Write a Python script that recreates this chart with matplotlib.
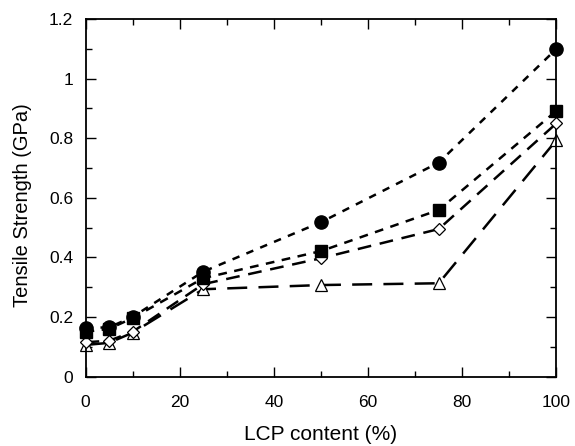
import matplotlib
matplotlib.use('Agg')
import matplotlib.pyplot as plt
from matplotlib.ticker import MultipleLocator

plt.rcParams['font.family'] = ['Liberation Sans', 'DejaVu Sans']

# LCP content (%) and tensile strength (GPa) for the four series
lcp = [0, 5, 10, 25, 50, 75, 100]
circulos = [0.163, 0.165, 0.20, 0.352, 0.518, 0.718, 1.10]
cuadrados = [0.15, 0.16, 0.196, 0.33, 0.421, 0.559, 0.892]
rombos = [0.115, 0.12, 0.15, 0.31, 0.397, 0.495, 0.85]
triangulos = [0.106, 0.113, 0.147, 0.293, 0.307, 0.313, 0.794]

ticks_y = [0, 0.2, 0.4, 0.6, 0.8, 1.0, 1.2]
etiquetas_y = ['0', '0.2', '0.4', '0.6', '0.8', '1', '1.2']

fig = plt.figure(figsize=(5.75, 4.46), dpi=100)
ax = fig.add_axes([0.1487, 0.1558, 0.8191, 0.8016])

# el orden de dibujo deja los circulos y cuadrados rellenos encima
ax.plot(lcp, triangulos, color='black', lw=1.8, dashes=(8, 4.5),
        marker='^', ms=8, mfc='white', mec='black', mew=0.9, zorder=2,
        clip_on=False)
ax.plot(lcp, rombos, color='black', lw=1.8, dashes=(5.5, 3.5),
        marker='D', ms=6.5, mfc='white', mec='black', mew=0.9, zorder=3,
        clip_on=False)
ax.plot(lcp, cuadrados, color='black', lw=1.8, dashes=(3.5, 3),
        marker='s', ms=8, mfc='black', mec='black', zorder=4,
        clip_on=False)
ax.plot(lcp, circulos, color='black', lw=1.8, dashes=(3, 3),
        marker='o', ms=9.5, mfc='black', mec='black', zorder=5,
        clip_on=False)

ax.set_xlim(0, 100)
ax.set_ylim(0, 1.2)
ax.xaxis.set_major_locator(MultipleLocator(20))
ax.xaxis.set_minor_locator(MultipleLocator(10))
ax.set_yticks(ticks_y, etiquetas_y)
ax.yaxis.set_minor_locator(MultipleLocator(0.1))

ax.tick_params(which='both', direction='in', top=True, right=True,
               width=1.0, labelsize=12.5)
ax.tick_params(axis='x', pad=13)
ax.tick_params(axis='y', pad=9)
ax.tick_params(which='major', length=7)
ax.tick_params(which='minor', length=4)
for s in ax.spines.values():
    s.set_linewidth(1.3)

ax.set_xlabel('LCP content (%)', fontsize=15)
ax.set_ylabel('Tensile Strength (GPa)', fontsize=14.5)
ax.xaxis.set_label_coords(0.5, -0.136)
ax.yaxis.set_label_coords(-0.114, 0.48)

fig.savefig('out.png', dpi=100)
